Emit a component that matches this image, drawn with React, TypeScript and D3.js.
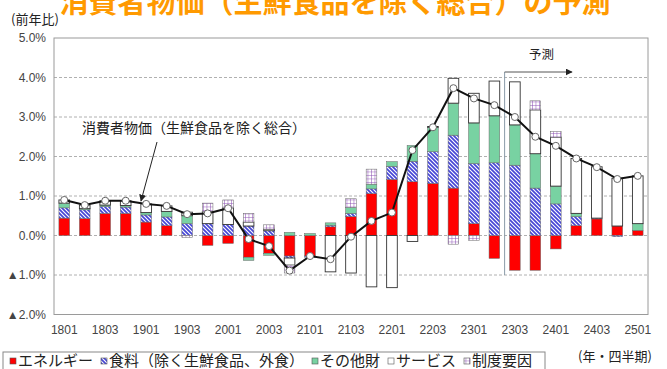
import React from "react";
import * as d3 from "d3";

// Quarters: YYQ (year, quarter)
const quarters = [
  "1801", "1802", "1803", "1804",
  "1901", "1902", "1903", "1904",
  "2001", "2002", "2003", "2004",
  "2101", "2102", "2103", "2104",
  "2201", "2202", "2203", "2204",
  "2301", "2302", "2303", "2304",
  "2401", "2402", "2403", "2404",
  "2501",
];
const tickLabels = [
  "1801", "1803", "1901", "1903", "2001", "2003", "2101", "2103",
  "2201", "2203", "2301", "2303", "2401", "2403", "2501",
];

// Contributions to year-on-year change (percentage points)
const energy = [
  0.44, 0.43, 0.56, 0.56, 0.34, 0.25, 0.0, -0.25,
  -0.2, -0.55, -0.45, -0.52, -0.52, 0.22, 0.48, 1.06,
  1.42, 1.36, 1.32, 1.2, 0.3, -0.58, -0.88, -0.88,
  -0.34, 0.25, 0.42, 0.24, 0.13,
];
const food = [
  0.26, 0.22, 0.17, 0.16, 0.18, 0.22, 0.3, 0.3,
  0.28, 0.24, 0.12, -0.05, -0.03, 0.04, 0.08, 0.12,
  0.33, 0.52, 0.8, 1.34, 1.52, 1.84, 1.78, 1.2,
  0.8, 0.23, 0.02, -0.03, 0.0,
];
const otherGoods = [
  0.12, 0.03, 0.04, 0.04, 0.06, 0.14, 0.2, 0.0,
  0.0, -0.08, -0.05, 0.08, 0.05, 0.06, 0.15, 0.12,
  0.12, 0.4, 0.62, 0.81, 1.03, 1.19, 1.02, 0.87,
  0.45, 0.08, 0.0, 0.0, 0.17,
];
const services = [
  0.08, 0.09, 0.11, 0.12, 0.22, 0.14, 0.09, 0.3,
  0.42, 0.1, 0.04, -0.18, 0.0, -0.92, -0.95, -1.3,
  -1.32, -0.15, 0.02, 0.63, 0.75, 0.88, 1.09, 1.11,
  1.24, 1.39, 1.3, 1.21, 1.21,
];
const institutional = [
  0.0, 0.0, 0.0, 0.0, 0.0, 0.0, -0.05, 0.22,
  0.2, 0.22, 0.11, -0.2, 0.0, 0.0, 0.22, 0.38,
  0.0, 0.0, 0.0, -0.22, -0.12, 0.0, 0.0, 0.23,
  0.14, 0.0, 0.0, 0.0, 0.0,
];
// 消費者物価(生鮮食品を除く総合), % y/y
const coreCpi = [
  0.9, 0.77, 0.88, 0.88, 0.8, 0.75, 0.54, 0.56,
  0.69, -0.09, -0.27, -0.89, -0.52, -0.6, -0.03, 0.37,
  0.58, 2.16, 2.74, 3.73, 3.47, 3.3, 3.0, 2.5,
  2.27, 1.95, 1.73, 1.43, 1.51,
];
const yTicks = [5, 4, 3, 2, 1, 0, -1, -2];
const forecastStart = "2303";

const seriesKeys = ["energy", "food", "other", "services", "institutional"];
const seriesNames = ["エネルギー", "食料（除く生鮮食品、外食）", "その他財", "サービス", "制度要因"];
const seriesFills = ["#ff0000", "url(#hatchFood)", "#78d2a2", "#ffffff", "url(#gridInst)"];

const W = 667;
const H = 369;
const plot = { left: 54, right: 648, top: 38, bottom: 314.5 };

const jp = "'Noto Sans CJK JP', 'Noto Sans', sans-serif";
const num = "'Liberation Sans', Arial, sans-serif";

function fmtTick(v: number): string {
  const s = Math.abs(v).toFixed(1) + "%";
  return v < 0 ? "▲" + s : s;
}

export default function App() {
  const x = d3
    .scaleBand<string>()
    .domain(quarters)
    .range([plot.left, plot.right])
    .paddingInner(0.48)
    .paddingOuter(0.24);
  const y = d3.scaleLinear().domain([-2, 5]).range([plot.bottom, plot.top]);

  const rows = quarters.map((q, i) => ({
    q,
    energy: energy[i],
    food: food[i],
    other: otherGoods[i],
    services: services[i],
    institutional: institutional[i],
  }));
  const stacked = d3
    .stack<any>()
    .keys(seriesKeys)
    .offset(d3.stackOffsetDiverging)(rows);

  const cx = (q: string) => (x(q) as number) + x.bandwidth() / 2;
  const line = d3
    .line<number>()
    .x((_, i) => cx(quarters[i]))
    .y((d) => y(d));

  const fcX = (x(forecastStart) as number) - (x.step() * x.paddingInner()) / 2;
  const fcTop = 72;
  const fcBottom = y(-1);

  // legend layout
  const legendFont = 15;
  const legendItems: { sx: number; tx: number }[] = [];
  let lx = 10;
  seriesNames.forEach((name) => {
    legendItems.push({ sx: lx, tx: lx + 8 });
    lx += 8 + name.length * legendFont + 8;
  });

  return (
    <svg
      width={W}
      height={H}
      style={{ position: "absolute", left: 0, top: 0, background: "#fff" }}
    >
      <defs>
        <pattern id="hatchFood" width="4" height="4" patternUnits="userSpaceOnUse">
          <rect width="4" height="4" fill="#4646d6" />
          <path d="M-1,-1 L5,5 M3,-1 L5,1 M-1,3 L1,5" stroke="#ffffff" strokeWidth="1.1" />
        </pattern>
        <pattern id="gridInst" width="3.5" height="3.5" patternUnits="userSpaceOnUse">
          <rect width="3.5" height="3.5" fill="#ffffff" />
          <path d="M0,0 H3.5 M0,0 V3.5" stroke="#8a4db2" strokeWidth="1" />
        </pattern>
        <marker id="arrowHead" viewBox="0 0 10 10" refX="9" refY="5" markerWidth="7" markerHeight="7" orient="auto">
          <path d="M0,0 L10,5 L0,10 z" fill="#222" />
        </marker>
      </defs>

      {/* title */}
      <text
        x={335}
        y={13}
        textAnchor="middle"
        fontFamily={jp}
        fontWeight="bold"
        fontSize={29}
        fill="#ff9a00"
      >
        消費者物価（生鮮食品を除く総合）の予測
      </text>

      <text x={11} y={24} fontFamily={jp} fontSize={13} fill="#222">
        (前年比)
      </text>

      {/* grid */}
      {yTicks.map((t) => (
        <g key={t}>
          {t > -2 && t < 5 && (
            <line
              x1={plot.left}
              x2={plot.right}
              y1={y(t)}
              y2={y(t)}
              stroke="#b0b0b0"
              strokeWidth={1}
              strokeDasharray="3,2"
            />
          )}
          <text
            x={46}
            y={y(t) + 4}
            textAnchor="end"
            fontFamily={num}
            fontSize={12}
            fill="#444"
          >
            {fmtTick(t)}
          </text>
        </g>
      ))}
      <rect
        x={plot.left}
        y={plot.top}
        width={plot.right - plot.left}
        height={plot.bottom - plot.top}
        fill="none"
        stroke="#9a9a9a"
        strokeWidth={1}
      />

      {/* stacked contributions */}
      {stacked.map((s, si) => (
        <g key={s.key} fill={seriesFills[si]}>
          {s.map((d, i) =>
            Math.abs(d[1] - d[0]) < 1e-9 ? null : (
              <rect
                key={i}
                x={x(quarters[i])}
                width={x.bandwidth()}
                y={y(Math.max(d[0], d[1]))}
                height={Math.abs(y(d[0]) - y(d[1]))}
                stroke={si === 3 ? "#333" : "#666"}
                strokeWidth={si === 3 ? 0.9 : 0.5}
              />
            )
          )}
        </g>
      ))}

      {/* forecast bracket */}
      <line x1={fcX} x2={fcX} y1={fcTop} y2={fcBottom} stroke="#8a9aa8" strokeWidth={1} />
      <line
        x1={fcX}
        x2={572}
        y1={fcTop}
        y2={fcTop}
        stroke="#555"
        strokeWidth={1}
        markerEnd="url(#arrowHead)"
      />
      <text x={529} y={59} fontFamily={jp} fontSize={12.5} fill="#222">
        予測
      </text>

      {/* core CPI line */}
      <path d={line(coreCpi) ?? ""} fill="none" stroke="#111" strokeWidth={2} />
      {coreCpi.map((v, i) => (
        <circle
          key={i}
          cx={cx(quarters[i])}
          cy={y(v)}
          r={3.5}
          fill="#fff"
          stroke="#666"
          strokeWidth={1}
        />
      ))}

      {/* annotation */}
      <text x={82} y={133} fontFamily={jp} fontSize={14} fill="#222">
        消費者物価（生鮮食品を除く総合）
      </text>
      <line
        x1={157}
        y1={142}
        x2={141}
        y2={201}
        stroke="#222"
        strokeWidth={1}
        markerEnd="url(#arrowHead)"
      />

      {/* x axis labels */}
      {tickLabels.map((t) => (
        <text
          key={t}
          x={cx(t)}
          y={334}
          textAnchor="middle"
          fontFamily={num}
          fontSize={12}
          fill="#444"
        >
          {t}
        </text>
      ))}

      {/* legend */}
      <rect x={3} y={352} width={542} height={30} fill="none" stroke="#888" strokeWidth={1} />
      {seriesNames.map((name, i) => (
        <g key={name}>
          <rect
            x={legendItems[i].sx}
            y={358}
            width={6}
            height={6}
            fill={seriesFills[i]}
            stroke="#555"
            strokeWidth={0.6}
          />
          <text x={legendItems[i].tx} y={366} fontFamily={jp} fontSize={legendFont} fill="#222">
            {name}
          </text>
        </g>
      ))}
      <text x={578} y={361} fontFamily={jp} fontSize={13} fill="#222">
        (年・四半期)
      </text>
    </svg>
  );
}
